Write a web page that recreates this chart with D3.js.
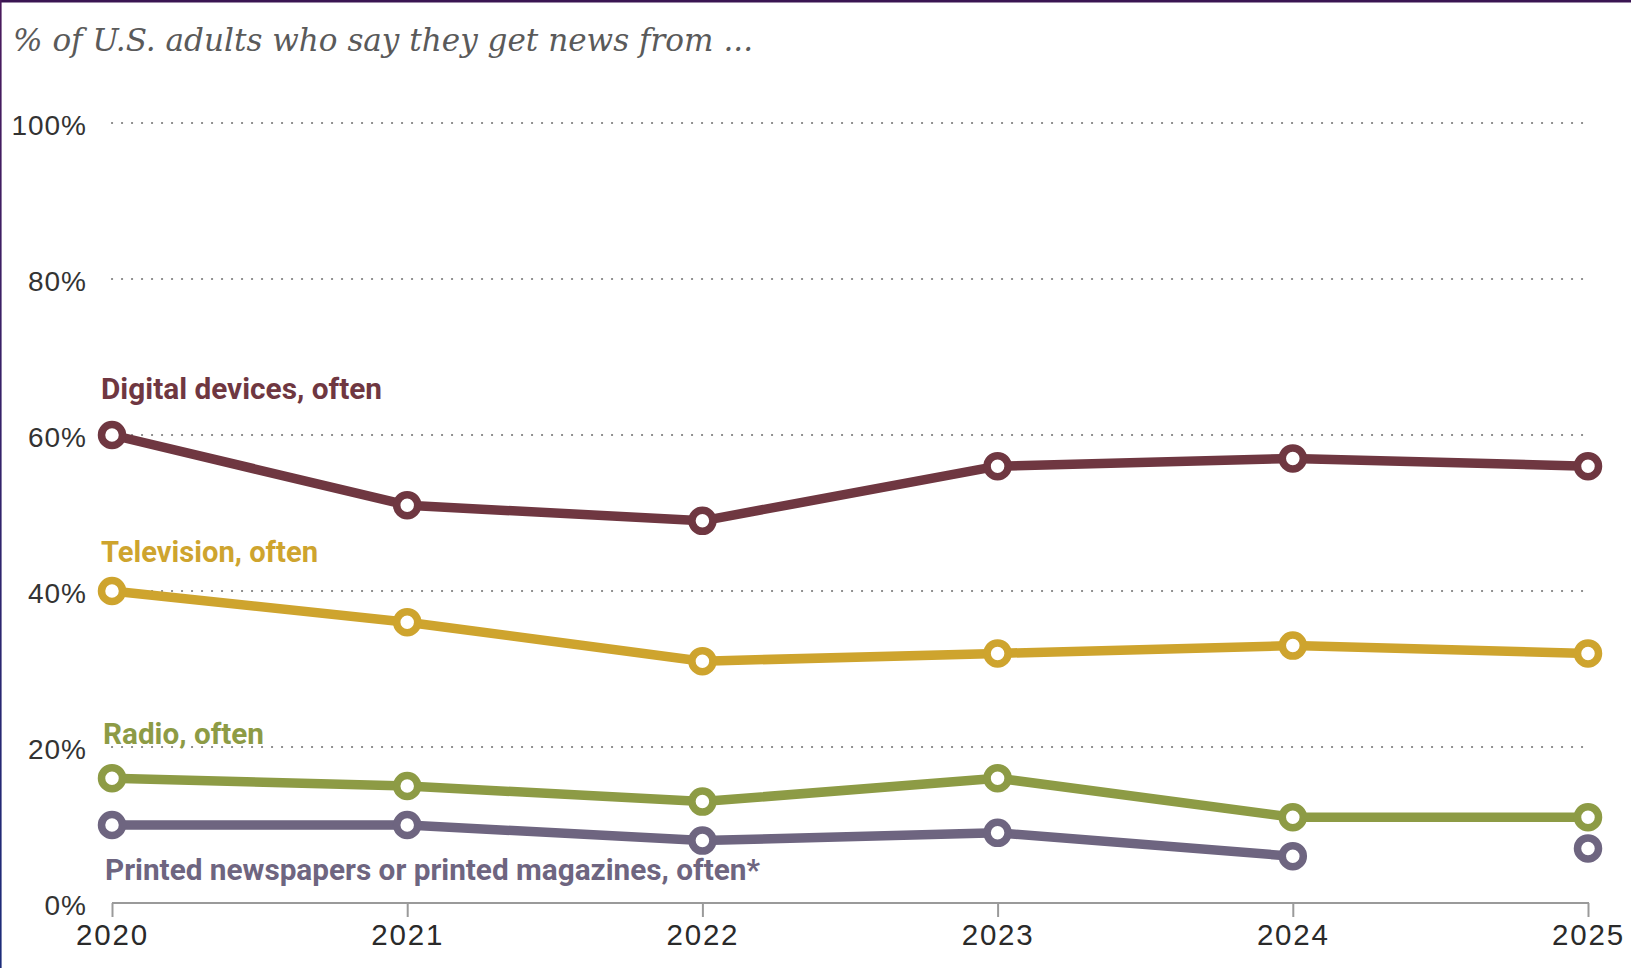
<!DOCTYPE html>
<html>
<head>
<meta charset="utf-8">
<script src="https://cdn.jsdelivr.net/npm/d3@7"></script>
<style>
  html, body { margin: 0; padding: 0; background: #fff; }
  svg { display: block; }
</style>
</head>
<body>
<svg id="chart" width="1631" height="968"></svg>
<script>
// ---- data ----
const years = [2020, 2021, 2022, 2023, 2024, 2025];
const digitalValues = [60, 51, 49, 56, 57, 56];
const televisionValues = [40, 36, 31, 32, 33, 32];
const radioValues = [16, 15, 13, 16, 11, 11];
const printValues = [10, 10, 8, 9, 6, 7];
// last point of printed series is not connected (question wording change)
const printConnectedUpTo = 2024;
const yTicks = [0, 20, 40, 60, 80, 100];
const yTickLabels = ["0%", "20%", "40%", "60%", "80%", "100%"];
const seriesNames = ["Digital devices, often", "Television, often", "Radio, often", "Printed newspapers or printed magazines, often*"];
const titleText = "% of U.S. adults who say they get news from ...";

// ---- layout ----
const svg = d3.select("#chart");
const W = 1631, H = 968;
const x = d3.scalePoint().domain(years).range([112, 1588]);
const y = d3.scaleLinear().domain([0, 100]).range([903, 123]);

const colors = ["#6f3741", "#cea42e", "#8d9b45", "#6e6580"];
const series = [
  { name: seriesNames[0], values: digitalValues, color: colors[0], lx: 101, ly: 399, lw: 281 },
  { name: seriesNames[1], values: televisionValues, color: colors[1], lx: 101, ly: 562, lw: 217 },
  { name: seriesNames[2], values: radioValues, color: colors[2], lx: 103, ly: 744, lw: 161 },
  { name: seriesNames[3], values: printValues, color: colors[3], lx: 105, ly: 880, lw: 655 }
];

// frame borders
const defs = svg.append("defs");
const grad = defs.append("linearGradient").attr("id", "lb").attr("x1", 0).attr("y1", 0).attr("x2", 0).attr("y2", 1);
grad.append("stop").attr("offset", "0%").attr("stop-color", "#4a1a5c");
grad.append("stop").attr("offset", "100%").attr("stop-color", "#1c2c7a");
svg.append("rect").attr("x", 0).attr("y", 0).attr("width", W).attr("height", 2.5).attr("fill", "#3a1552");
svg.append("rect").attr("x", 0).attr("y", 0).attr("width", 1.6).attr("height", H).attr("fill", "url(#lb)");

// title
svg.append("text")
  .attr("x", 13).attr("y", 51)
  .attr("font-family", "'DejaVu Serif', Georgia, serif")
  .attr("font-style", "italic")
  .attr("font-size", 32)
  .attr("fill", "#5a5a5a")
  .attr("textLength", 740)
  .attr("lengthAdjust", "spacingAndGlyphs")
  .text(titleText);

// gridlines
const gridVals = yTicks.filter(v => v > 0);
svg.append("g").selectAll("line").data(gridVals).join("line")
  .attr("x1", x(2020)).attr("x2", 1583)
  .attr("y1", d => y(d)).attr("y2", d => y(d))
  .attr("stroke", "#808080")
  .attr("stroke-width", 2.2)
  .attr("stroke-linecap", "round")
  .attr("stroke-dasharray", "0.1 9.9");

// y labels
svg.append("g").selectAll("text").data(yTicks).join("text")
  .attr("x", 87)
  .attr("y", (d) => y(d) + 2)
  .attr("dy", "0.36em")
  .attr("text-anchor", "end")
  .attr("font-family", "'Liberation Sans', Arial, sans-serif")
  .attr("font-size", 28)
  .attr("letter-spacing", 1)
  .attr("fill", "#333")
  .text((d, i) => yTickLabels[i]);

// x axis
const xAxis = d3.axisBottom(x).tickSize(14).tickSizeOuter(0).tickFormat(d3.format("d"));
const gx = svg.append("g").attr("transform", `translate(0,${y(0)})`).call(xAxis);
gx.select(".domain").attr("stroke", "#9a9a9a").attr("stroke-width", 2.2)
  .attr("d", `M${x(2020)},0H${x(2025) + 1}`);
gx.selectAll(".tick line").attr("stroke", "#9a9a9a").attr("stroke-width", 2);
gx.selectAll(".tick text")
  .attr("y", 21)
  .attr("dy", "0.71em")
  .attr("font-family", "'Liberation Sans', Arial, sans-serif")
  .attr("font-size", 29.5)
  .attr("letter-spacing", 1.8)
  .attr("fill", "#2a2a2a");

// lines
const line = d3.line().x(d => x(d.year)).y(d => y(d.value));
series.forEach((s, si) => {
  let pts = years.map((yr, i) => ({ year: yr, value: s.values[i] }));
  let linePts = si === 3 ? pts.filter(p => p.year <= printConnectedUpTo) : pts;
  svg.append("path")
    .datum(linePts)
    .attr("d", line)
    .attr("fill", "none")
    .attr("stroke", s.color)
    .attr("stroke-width", 9.5)
    .attr("stroke-linejoin", "round");
  svg.append("g").selectAll("circle").data(pts).join("circle")
    .attr("cx", d => x(d.year))
    .attr("cy", d => y(d.value))
    .attr("r", 10.5)
    .attr("fill", "#fff")
    .attr("stroke", s.color)
    .attr("stroke-width", 7.5);
  svg.append("text")
    .attr("x", s.lx).attr("y", s.ly)
    .attr("font-family", "Roboto, 'Liberation Sans', sans-serif")
    .attr("font-weight", 700)
    .attr("font-size", 29)
    .attr("fill", s.color)
    .attr("textLength", s.lw)
    .attr("lengthAdjust", "spacingAndGlyphs")
    .text(s.name);
});
</script>
</body>
</html>
